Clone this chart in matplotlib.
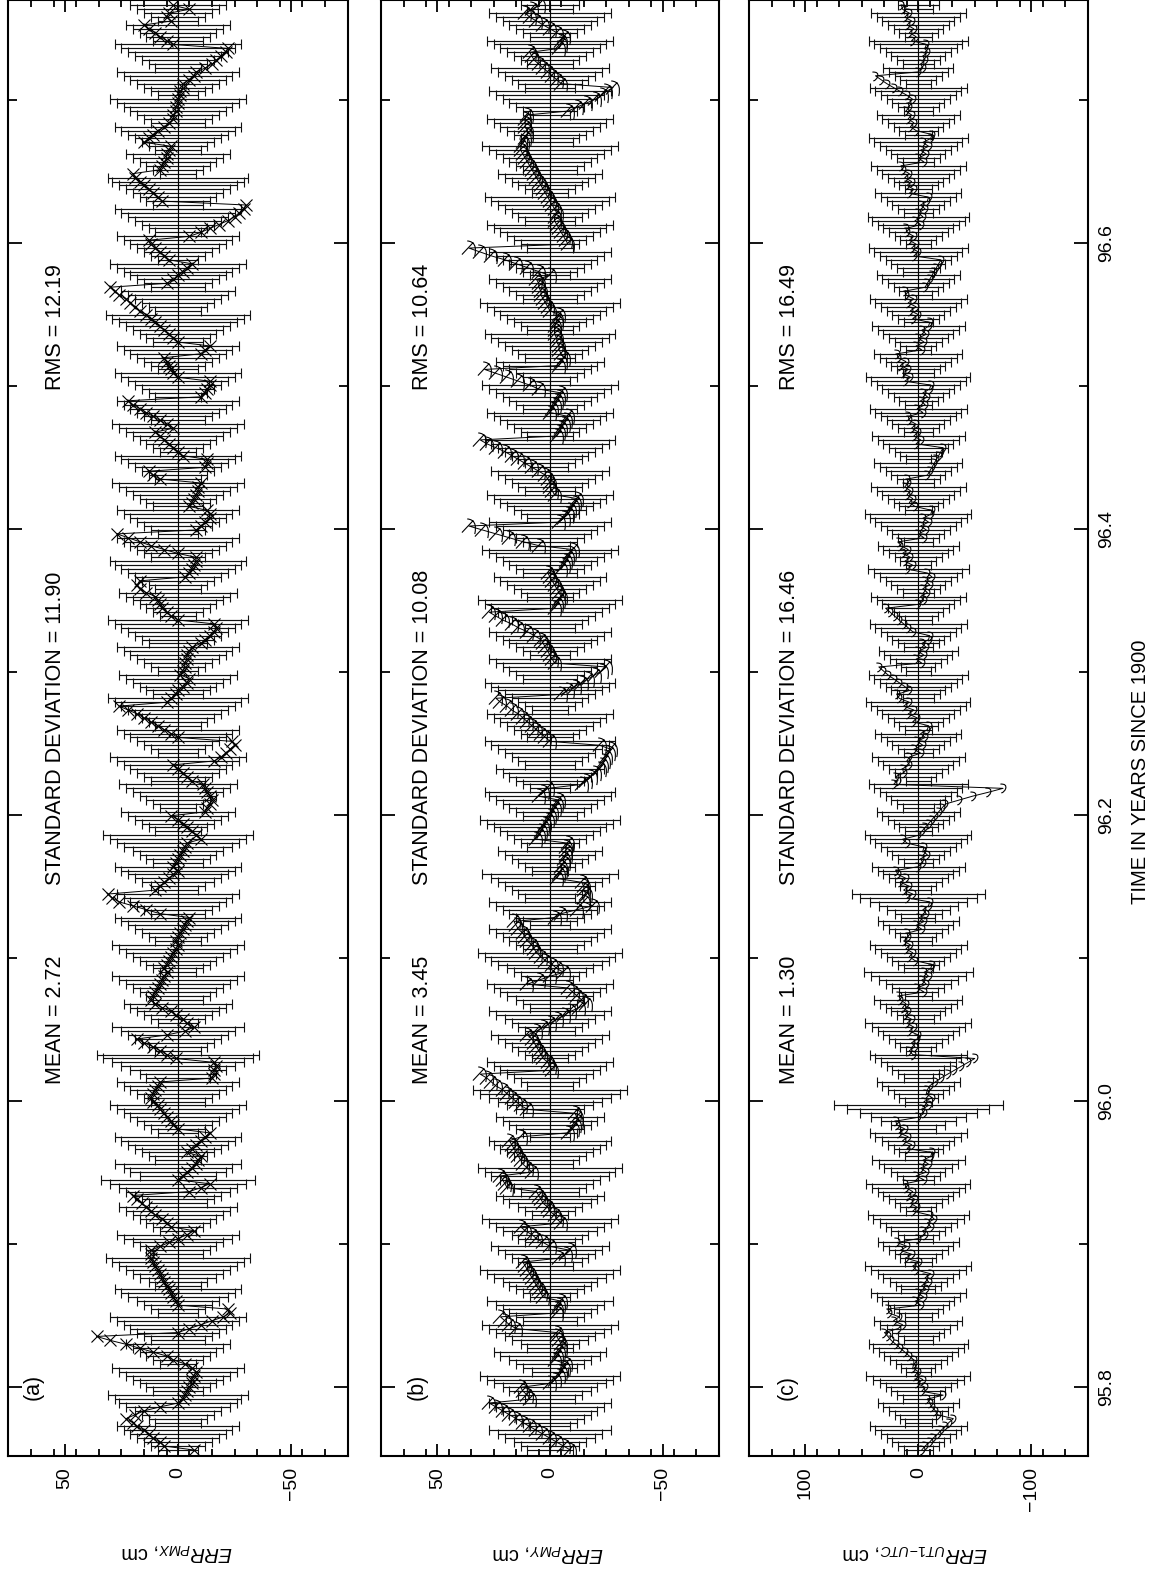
import numpy as np
import matplotlib
matplotlib.use('Agg')
import matplotlib.pyplot as plt
from matplotlib.path import Path
from matplotlib.ticker import FormatStrFormatter

plt.rcParams['font.family'] = ['Liberation Sans', 'DejaVu Sans']
plt.rcParams['mathtext.fontset'] = 'custom'
plt.rcParams['mathtext.it'] = 'Liberation Sans:italic'
plt.rcParams['mathtext.rm'] = 'Liberation Sans'

# ---------------- data (daily values, cm) ----------------
T0 = 95.756               # first epoch, years since 1900
DAYS_PER_YEAR = 365.25

pmx_err = [
    -7,
    6, 8, 11, 13, 15, 18, 20, 23,
    19, 15, 8,
    0, -2, -3, -4, -5, -6, -6, -7, -8,
    -6, -3, 2,
    5, 11, 17, 23, 30, 36,
    0, -5, -10, -15, -20,
    -23, -22,
    0, 1, 2, 3, 4, 5, 6, 7, 8, 9, 10, 11, 12, 12,
    12, 8, 4, 0, -4, -7,
    3, 5, 7, 10, 12, 14, 16, 18, 20,
    -5, -10, -14,
    0, -2, -4, -6, -8, -9, -10,
    -4, -6, -8, -10, -12, -14,
    0, 2, 3, 5, 6, 8, 9, 11, 12,
    11, 10, 9, 8,
    -15, -16, -16, -17, -16,
    1, 5, 8, 11, 15, 18,
    5, -3,
    -7, -4, -2, 1, 3,
    7, 10, 12,
    11, 10, 9, 8, 7, 6, 5,
    6, 5, 4, 3, 2, 1, 0,
    1, 0, -1, -2, -3, -4, -5,
    8, 14, 20, 26, 29, 31,
    10, 8, 6, 4, 2, 0,
    2, 1, 0, -1, -2, -3, -4,
    -10, -8, -6, -4, -2, 0, 3,
    -12, -13, -14, -15, -14, -13, -12, -11,
    -6, -4, -2, 0, 2, -16, -19, -21, -23,
    -25, -24,
    0, 3, 6, 9, 12, 15, 18, 22, 26,
    5, 3, 1, 0, -2, -4, -5,
    -1, -2, -3, -3, -4, -4, -5, -6,
    -10, -12, -14, -16, -17, -16,
    0, 3, 5, 7, 8, 9, 10,
    14, 17, 18, 17,
    -3, -5, -6, -7, -8, -8,
    0, 6, 12, 17, 22, 27,
    -8, -10, -12, -14, -14, -13,
    -5, -6, -7, -8, -9, -9, -10,
    8, 11, 13,
    -12, -13, -13,
    -2, 0, 2, 4, 6, 8, 10,
    2, 5, 8, 11, 14, 17, 20, 22,
    -10, -12, -13, -14, -14,
    0, 2, 3, 4, 5, 6, -10, -12, -14,
    0, 2, 4, 6, 8, 10, 12, 14, 17, 19, 21, 23, 26, 28, 30,
    5, 2, 0, -2, -4, -6,
    4, 6, 8, 10, 12, 13,
    -5, -10, -14, -18, -22, -25, -27, -29, -30,
    7, 9, 11, 13, 15, 17, 19, 20,
    8, 7, 6, 5, 5, 4, 3,
    15, 13, 11, 9, 6, 4,
    2, 2, 1, 1, 0, 0, -1, -1, -2, -2,
    -5, -7, -8,
    -12, -15, -17, -19, -21, -22,
    2, 5, 8, 10, 13, 15,
    3, 5, 4, -5, 2,
]
pmx_sig = [
    9, 12, 15, 18, 21, 24, 27,
    10, 13, 16, 19, 23, 26, 28, 31,
    11, 14, 17, 20, 23, 26, 29,
    8, 11, 14, 17, 20, 23,
    12, 15, 18, 21, 24, 27, 30,
    9, 12, 15, 18, 22, 25, 28,
    10, 13, 17, 20, 23, 26, 29, 32,
    11, 14, 17, 20, 24, 27,
    8, 11, 14, 17, 20, 23, 26,
    13, 16, 19, 23, 26, 30, 34,
    17, 21, 24, 28,
    10, 13, 16, 19, 22, 25, 28,
    9, 12, 15, 18, 21, 24, 27, 30,
    12, 15, 18, 21, 24, 27,
    14, 17, 21, 25, 29, 33, 36,
    10, 13, 16, 19, 22, 25, 29,
    9, 12, 15, 18, 21, 24,
    11, 14, 17, 20, 23, 26, 29,
    8, 11, 14, 17, 20, 23, 26, 29,
    10, 13, 16, 19, 22, 25, 28,
    12, 15, 18, 21, 24, 27,
    9, 12, 16, 19, 22, 25, 28,
    11, 14, 17, 20, 24, 27, 30, 33,
    10, 13, 16, 19, 22, 25,
    8, 11, 14, 17, 20, 23, 26,
    12, 15, 18, 21, 24, 27, 30,
    9, 12, 15, 18, 21, 24, 27,
    10, 13, 16, 19, 22, 25, 28, 31,
    11, 14, 17, 20, 23, 26,
    9, 12, 15, 18, 21, 24, 27,
    13, 16, 19, 22, 25, 28, 31,
    8, 11, 14, 17, 20, 23, 26,
    10, 13, 16, 19, 22, 25, 28, 30,
    12, 15, 18, 21, 24, 27,
    9, 12, 15, 18, 21, 24, 27,
    11, 14, 17, 20, 23, 26, 29,
    10, 13, 16, 19, 22, 25, 28,
    8, 11, 14, 17, 20, 23, 26, 29,
    12, 15, 18, 21, 24, 27,
    10, 13, 16, 19, 22, 25, 28,
    9, 12, 15, 18, 21, 24, 27,
    11, 14, 17, 20, 23, 26, 29, 32,
    10, 13, 16, 19, 22, 25,
    12, 15, 18, 21, 24, 27, 30,
    9, 12, 15, 18, 21, 24, 27,
    10, 13, 16, 19, 22, 25, 28,
    11, 14, 17, 20, 23, 26, 29, 31,
    8, 11, 14, 17, 20, 23,
    10, 13, 16, 19, 22, 25, 28,
    12, 15, 18, 21, 24, 27, 30,
    9, 12, 15, 18, 21, 24, 27,
    10, 13, 16, 19, 22, 25, 28,
    11, 14, 17, 20, 23,
    9, 12, 15, 18, 21,
]

pmy_err = [
    -9, -6, -3, 0, 3, 6, 9, 12, 15, 18, 21, 24, 27,
    9, 10, 12, 13,
    0, -2, -4, -5, -6, -7, -2, -3, -4, -5, -5, -4, -3, -3,
    15, 18, 20, 22,
    -3, -3, -4, -5,
    3, 4, 5, 6, 7, 8, 9, 10, 11, 12,
    -4, -7, -9,
    0, 3, 6, 8, 11, 13,
    -5, -3, -2, 0, 1, 3, 4, 5, 6,
    19, 20, 21, 22,
    8, 10, 12, 13, 14, 15, 16, 17, 18, 13,
    -8, -10, -11, -12, -12, -11,
    10, 13, 15, 17, 19, 21, 24, 26, 28, 31,
    -1, 0, 1, 3, 4, 5, 6, 7, 8, 10,
    6, 3, 0, -3, -6, -9, -13, -16,
    -14, -12, -10, -8,
    10, 5, 0, -6,
    -3, -1, 2, 4,
    6, 7, 8, 10, 11, 12, 14, 15, 16,
    -2, -5, -12, -19,
    -15, -15, -16, -15, -15, -14,
    -3, -4, -5, -5, -6, -6, -7, -7, -7, -8,
    6, 5, 4, 3, 2, 1, 0, -1, -2, -3, -4, 5, 3, 1,
    -14, -16, -18, -20, -22, -23, -24, -25, -26, -27, -22,
    0, 2, 4, 6, 8, 10, 12, 14, 17, 19, 22, 24,
    -5, -8, -11, -14, -17, -20, -23, -25,
    -2, -1, 0, 1, 2, 3, 4,
    7, 10, 14, 17, 21, 24, 27,
    -2, -3, -4, -5, -4, -3, -2, -1, 0, 1,
    -5, -6, -7, -8, -9, -10,
    5, 12, 18, 24, 30, 36,
    -4, -6, -8, -9, -10, -11, -12,
    -2, -1, 0, 0, 1, 2,
    5, 8, 11, 14, 17, 20, 24, 28, 31,
    -3, -4, -5, -6, -7, -8, 0, -1, -2, -3, -4, -5,
    5, 9, 14, 19, 24, 29,
    -4, -5, -6, -5, -4, -4, -3, -3, -2, -2, -2, -3, -3, -4,
    0, 1, 2, 3, 4, 4, 5, 5, 6,
    0, 5, 10, 15, 20, 26, 31, 36,
    -8, -7, -6, -5, -4, -3, -2, -2, -3,
    -2, -1, 0, 1, 2, 3, 4, 5, 6, 7,
    8, 9, 10, 11, 12, 13, 13, 12,
    11, 10, 10, 11, 11, 11, 10,
    -8, -12, -16, -20, -23, -25, -28,
    -5, -3, -1, 1, 3, 5, 7, 8, 9,
    -4, -5, -5, -6, -3, 0, 3, 6, 9, 11, 8, 5,
]
pmy_sig = [
    10, 13, 16, 20, 23, 27,
    9, 12, 15, 18, 21, 24, 27,
    11, 14, 18, 21, 25, 28, 31,
    8, 12, 15, 18, 22, 25,
    10, 13, 17, 20, 24, 27, 30,
    12, 15, 18, 21, 24, 28,
    9, 12, 15, 18, 21, 25, 28, 31,
    10, 14, 17, 20, 23, 26,
    11, 14, 17, 21, 24, 27, 30,
    8, 11, 14, 18, 21, 24,
    13, 16, 19, 22, 26, 29, 32,
    10, 13, 16, 19, 22, 25, 27,
    9, 12, 15, 18, 21, 24,
    12, 15, 19, 23, 27, 31, 34,
    10, 13, 16, 19, 22, 25, 28,
    8, 11, 14, 17, 20, 23, 26,
    11, 14, 17, 20, 24, 27,
    9, 12, 15, 19, 22, 25, 28,
    10, 13, 16, 19, 23, 26, 29, 32,
    12, 15, 18, 21, 24, 27,
    9, 12, 15, 18, 21, 24, 27,
    11, 14, 17, 20, 23, 26, 30,
    8, 11, 14, 17, 20, 23,
    10, 13, 16, 19, 22, 25, 28, 31,
    12, 15, 18, 21, 24, 27, 29,
    9, 12, 15, 18, 21, 24,
    11, 14, 17, 20, 23, 26, 29,
    10, 13, 16, 19, 22, 25, 28,
    8, 11, 14, 17, 20, 23, 26, 29,
    12, 15, 18, 21, 24, 27,
    9, 12, 15, 18, 21, 24, 27,
    11, 14, 17, 20, 23, 26, 29, 32,
    10, 13, 16, 19, 22, 25,
    12, 15, 18, 21, 24, 27, 30,
    9, 12, 15, 18, 21, 24, 27,
    10, 13, 16, 19, 22, 25, 28,
    11, 14, 17, 20, 23, 26,
    8, 11, 14, 17, 20, 23, 26, 29,
    10, 13, 16, 19, 22, 25, 28,
    12, 15, 18, 21, 24, 27, 30,
    9, 12, 15, 18, 21, 24,
    11, 14, 17, 20, 23, 26, 29,
    10, 13, 16, 19, 22, 25, 28, 31,
    12, 15, 18, 21, 24, 27,
    9, 12, 15, 18, 21, 24, 27,
    10, 13, 16, 19, 22, 25, 28,
    11, 14, 17, 20, 23, 26, 29,
    8, 11, 14, 17, 20, 23,
    12, 15, 18, 21, 24, 27, 30,
    10, 13, 16, 19, 22, 25, 28,
    9, 12, 15, 18, 21, 24, 27,
    11, 14, 17, 20, 23, 26,
    10, 13, 16, 19, 22, 25, 28,
    9, 12, 15, 18, 21, 24, 27,
    10, 13,
]

ut1_err = [
    -3, -6, -10, -13, -17, -20, -24, -27, -31,
    -17, -15, -12, -10, -8, -22,
    -3, -6, 1, -4, 3, 0, 5, 4,
    4, 8, 12, 16, 20, 24, 27, 30,
    18, 14, 22, 17, 26, 27,
    -2, 3, -5, 0, -7, -3, -9, -6, -11,
    2, 5, -1, 11, 6, 16, 10, 19,
    0, -6, -4, -11, -8, -14, -10,
    5, 1, 7, 3, 9, 5, 11, 12,
    -5, 2, -7, -2, -9, -4, -11, -12,
    10, 6, 14, 9, 17, 12, 19, 20,
    0, -5, -3, -9, -5, -12, -7, -8,
    -10, -15, -20, -26, -32, -38, -44, -50,
    5, 8, 3, 6, 1, 0,
    8, 4, 10, 6, 12, 9, 14, 11, 16, 17,
    -5, 1, -7, -3, -9, -5, -11, -12,
    3, 8, 5, 11, 7, 13, 9, 10,
    -3, 2, -5, -1, -7, -4, -9, -10,
    10, 5, 13, 8, 16, 11, 18, 20,
    0, -4, -2, -8, -4, -5, 10, 14,
    0, -3, -6, -9, -12, -15, -18, -21, -24,
    -36, -48, -62, -75,
    22, 18, 20, 13, 14, 8, 10, 8,
    -2, 4, -4, 1, -6, -2, -8, -9,
    5, 1, 9, 4, 13, 8, 17, 19,
    8, 12, 17, 22, 27, 31, 35,
    -3, 2, -5, 0, -7, -3, -9, -10,
    5, 9, 13, 17, 21, 25, 29,
    0, -5, -2, -8, -4, -10, -6, -12, -8,
    10, 5, 12, 7, 14, 9, 16, 17,
    -5, 0, -7, -2, -9, -4, -11, -12,
    3, 8, 5, 10, 7, 12, 9, 10,
    -8, -10, -12, -14, -16, -18, -20, -22,
    2, -2, 4, 0, 6, 2, 8, 9,
    -4, 1, -6, -2, -8, -4, -10, -11,
    12, 7, 14, 9, 16, 11, 18, 19,
    -3, 2, -5, 0, -7, -3, -9, -10,
    5, 0, 7, 2, 9, 4, 11, 12,
    -6, -8, -10, -12, -14, -16, -18, -20,
    4, 0, 6, 2, 8, 4, 10, 11,
    -2, 3, -4, 0, -6, -2, -8, -9,
    8, 4, 10, 6, 12, 8, 14, 15,
    -5, 0, -7, -2, -9, -4, -11, -12,
    2, 7, 4, 9, 6, 11, 8, 9,
    5, 10, 16, 22, 28, 33, 38,
    0, -4, -2, -6, -4, -8, -6, -7,
    6, 2, 8, 4, 10, 6, 12, 8, 14, 15,
]
ut1_sig = [
    13, 18, 23, 28, 33, 38, 43,
    12, 16, 21, 26, 31, 36,
    14, 19, 24, 29, 34, 40, 46,
    11, 15, 20, 25, 30, 35, 40, 44,
    13, 18, 23, 28, 34, 39,
    12, 17, 22, 27, 32, 37, 42,
    15, 20, 25, 31, 36, 42, 47,
    12, 16, 21, 26, 31, 36,
    13, 18, 24, 29, 34, 40, 45,
    11, 16, 21, 26, 31, 36, 41, 46,
    14, 19, 24, 30, 35, 41,
    12, 17, 22, 27, 32, 38, 43,
    16, 24, 33, 42, 52, 63, 75,
    12, 17, 22, 27, 32, 37,
    13, 18, 23, 28, 33, 38, 43,
    11, 16, 21, 26, 31, 36, 41, 47,
    14, 19, 24, 29, 34, 39,
    12, 17, 23, 29, 35, 42, 48,
    13, 18, 23, 28, 33, 38, 43,
    12, 16, 21, 26, 31, 36,
    15, 21, 28, 35, 43, 52, 59,
    11, 16, 21, 26, 31, 36, 41,
    13, 18, 23, 28, 33, 38, 43, 47,
    12, 17, 22, 27, 32, 37,
    14, 19, 24, 29, 34, 39, 44,
    11, 16, 21, 26, 31, 36, 41,
    13, 18, 23, 28, 33, 38,
    12, 17, 22, 27, 32, 37, 42, 46,
    14, 19, 24, 29, 34, 39, 44,
    11, 15, 20, 25, 30, 35,
    13, 18, 23, 28, 33, 38, 43,
    12, 17, 22, 27, 32, 37, 42,
    14, 19, 24, 29, 34, 39, 45,
    11, 16, 21, 26, 31, 36,
    13, 18, 23, 28, 33, 38, 43, 47,
    12, 17, 22, 27, 32, 37, 42,
    14, 19, 24, 29, 34, 39,
    11, 16, 21, 26, 31, 36, 41,
    13, 18, 23, 28, 33, 38, 43,
    12, 17, 22, 27, 32, 37, 42, 46,
    14, 19, 24, 29, 34, 39,
    11, 16, 21, 26, 31, 36, 41,
    13, 18, 23, 28, 33, 38, 43,
    12, 17, 22, 27, 32, 37,
    14, 19, 24, 29, 34, 39, 44,
    11, 16, 21, 26, 31, 36, 41, 45,
    13, 18, 23, 28, 33, 38,
    12, 17, 22, 27, 32, 37, 42,
    14, 19, 24, 29, 34, 39, 44,
    12, 17, 22, 27, 32, 37,
    13, 18, 23, 28, 33, 38, 43,
    11, 16, 21, 26, 31,
    14, 19, 24, 29, 34, 39, 44,
    12, 17, 22, 27, 32, 37, 42,
    13, 18,
]

panel_values = [pmx_err, pmy_err, ut1_err]
panel_sigmas = [pmx_sig, pmy_sig, ut1_sig]
panel_tags = ['(a)', '(b)', '(c)']
mean_vals = [2.72, 3.45, 1.30]
std_vals = [11.90, 10.08, 16.46]
rms_vals = [12.19, 10.64, 16.49]
axis_labels = [r'$\mathit{ERR}_{\mathit{PMX}}$, cm',
               r'$\mathit{ERR}_{\mathit{PMY}}$, cm',
               r'$\mathit{ERR}_{\mathit{UT1\!-\!UTC}}$, cm']
value_limits = [75, 75, 150]
value_major = [[50, 0, -50], [50, 0, -50], [100, 0, -100]]
value_minor_step = [10, 10, 20]
time_major = [95.8, 96.0, 96.2, 96.4, 96.6]
time_minor = [95.9, 96.1, 96.3, 96.5, 96.7]
time_label = 'TIME IN YEARS SINCE 1900'

# ---------------- markers ----------------
mk_b = Path([(-1.0, -0.8), (0.5, 0.8), (-0.3, 1.0), (1.1, 0.9), (0.7, -1.0)],
            [Path.MOVETO, Path.LINETO, Path.MOVETO, Path.CURVE3, Path.CURVE3])
mk_c = Path([(-0.7, 1.0), (0.8, 1.1), (0.5, 0.0), (0.2, -0.9), (-0.5, -1.0)],
            [Path.MOVETO, Path.CURVE3, Path.CURVE3, Path.CURVE3, Path.CURVE3])
markers = ['x', mk_b, mk_c]
marker_sizes = [9, 12, 7]

# ---------------- figure ----------------
W, H = 1159, 1575
fig = plt.figure(figsize=(W / 100, H / 100), dpi=100)

ax_px = [(8.3, 347.7), (381.0, 719.0), (749.0, 1087.7)]
ax_top, ax_bot = 0.0, 1455.7
tmin, tmax = 95.752, 96.770

text_x = [54, 56.5, 114]
tag_x = [64, 59, 116]
label_px = [(177, 1552), (548, 1553), (915, 1553)]

for i in range(3):
    x0, x1 = ax_px[i]
    ax = fig.add_axes([x0 / W, 1 - ax_bot / H, (x1 - x0) / W, (ax_bot - ax_top) / H])
    vals = np.asarray(panel_values[i], float)
    sig = np.asarray(panel_sigmas[i], float)
    n = min(len(vals), len(sig))
    vals, sig = vals[:n], sig[:n]
    t = T0 + np.arange(n) / DAYS_PER_YEAR

    ax.errorbar(np.zeros(n), t, xerr=sig, fmt='|', ms=4, mew=0.8, color='k',
                ecolor='#111111', elinewidth=0.85, capsize=3.5, capthick=0.85, zorder=2)
    ax.plot(vals, t, '-', color='k', lw=0.7, marker=markers[i],
            ms=marker_sizes[i], mew=0.8, mfc='none', mec='k', zorder=3)

    L = value_limits[i]
    ax.set_xlim(L, -L)
    ax.set_ylim(tmin, tmax)
    ax.set_xticks(value_major[i])
    ax.set_xticks(np.arange(-L + value_minor_step[i], L, value_minor_step[i]), minor=True)
    ax.set_yticks(time_major)
    ax.set_yticks(time_minor, minor=True)
    ax.yaxis.set_major_formatter(FormatStrFormatter('%.1f'))

    ax.tick_params(axis='x', which='both', direction='in', top=True, bottom=True,
                   labelbottom=True, labeltop=False, labelrotation=90,
                   labelsize=14, pad=8, width=1.3)
    ax.tick_params(axis='x', which='major', length=8.6)
    ax.tick_params(axis='x', which='minor', length=5)
    ax.tick_params(axis='y', which='both', direction='in', left=True, right=True,
                   labelleft=False, labelright=(i == 2), labelrotation=90,
                   labelsize=14, pad=7.5, width=1.3)
    ax.tick_params(axis='y', which='major', length=10)
    ax.tick_params(axis='y', which='minor', length=6.5)
    for lab in ax.get_yticklabels():
        lab.set_va('center')
    for sp in ax.spines.values():
        sp.set_linewidth(1.5)

    kw = dict(rotation=90, rotation_mode='anchor', ha='left', va='center',
              fontsize=15.5, zorder=5)
    ax.text(text_x[i], 96.012, 'MEAN = %.2f' % mean_vals[i], **kw)
    ax.text(text_x[i], 96.151, 'STANDARD DEVIATION = %.2f' % std_vals[i], **kw)
    ax.text(text_x[i], 96.497, 'RMS = %.2f' % rms_vals[i], **kw)
    ax.text(tag_x[i], 95.8, panel_tags[i], rotation=90, ha='center', va='center',
            fontsize=15.5, zorder=5)

    lx, ly = label_px[i]
    fig.text(lx / W, 1 - ly / H, axis_labels[i], rotation=180, ha='center',
             va='center', fontsize=14.5)

fig.text(1140 / W, 1 - 772 / H, time_label, rotation=90, ha='center', va='center',
         fontsize=14.5)

fig.savefig('out.png', dpi=100)
